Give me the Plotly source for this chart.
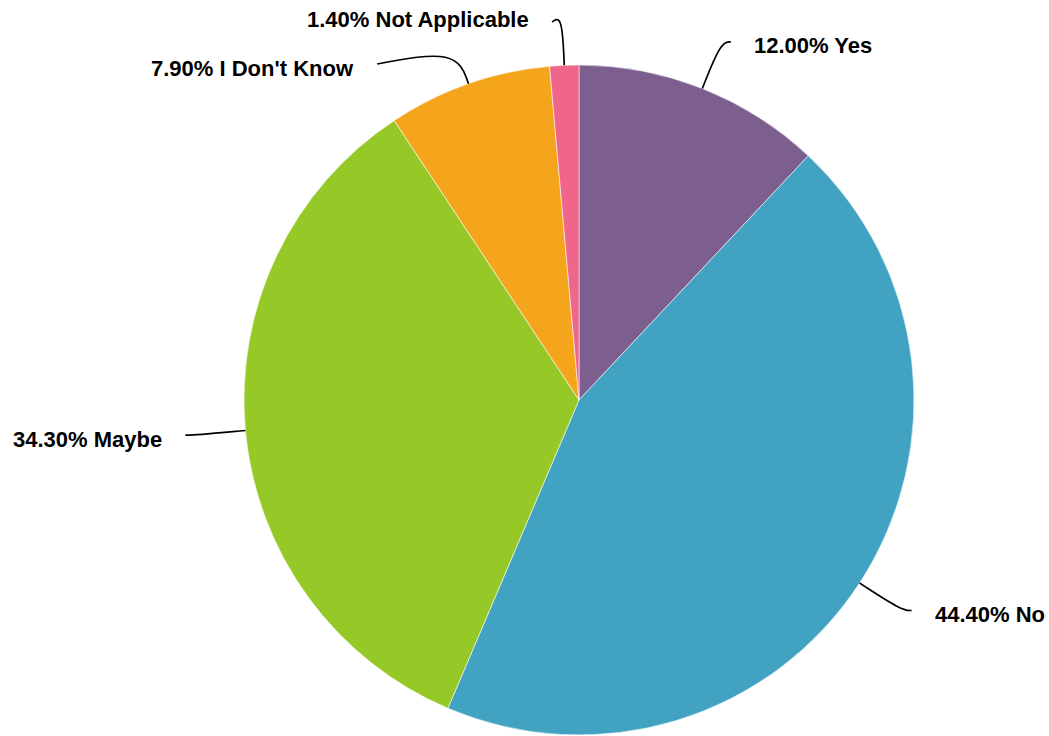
import math
import plotly.graph_objects as go

# ---- data ----
labels = ["Yes", "No", "Maybe", "I Don't Know", "Not Applicable"]
values = [12.0, 44.4, 34.3, 7.9, 1.4]
colors = ["#7D5F8F", "#41A2C2", "#96C828", "#F5A51B", "#F0668A"]

# ---- layout constants (pixels) ----
W, H = 1049, 736
CX, CY, R = 579, 400, 335
MID_F = 1.15        # radial factor of the leader-line elbow
MID_F_MOVED = 1.11  # elbow factor for labels pushed by collision
LABEL_R = 1.17 * R  # circle on which moved labels sit
MIN_GAP = 42        # min vertical gap between labels on one side
TOP_END = 22        # lowest y allowed for a line end
TEXT_DY = 4         # text centre offset below the line end
HOOK = 10           # horizontal hook length
TEXT_GAP = 21

total = sum(values)


def polar(angle_deg, r):
    a = math.radians(angle_deg)
    return CX + r * math.sin(a), CY - r * math.cos(a)


# compute label geometry from the data
items = []
cum = 0.0
for lab, v in zip(labels, values):
    mid = (cum + v / 2) / total * 360.0
    cum += v
    side = 1 if mid < 180 else -1
    p0 = polar(mid, R)
    p1 = polar(mid, MID_F * R)
    items.append(dict(label=lab, value=v, mid=mid, side=side, p0=p0, p1=p1,
                      raw_y=p1[1], end_y=max(p1[1], TOP_END), moved=False))

# collision avoidance per side (top to bottom)
for side in (1, -1):
    group = sorted([it for it in items if it["side"] == side], key=lambda d: d["end_y"])
    prev = None
    for it in group:
        if prev is not None and it["end_y"] < prev + MIN_GAP:
            it["end_y"] = prev + MIN_GAP
            it["moved"] = True
        prev = it["end_y"]

for it in items:
    if it["moved"]:
        it["p1"] = polar(it["mid"], MID_F_MOVED * R)
        dy = it["end_y"] - CY
        it["end_x"] = CX + it["side"] * math.sqrt(max(LABEL_R ** 2 - dy ** 2, 0))
        it["text_y"] = it["end_y"] + TEXT_DY
    else:
        it["end_x"] = it["p1"][0] + it["side"] * HOOK
        it["text_y"] = it["raw_y"] + TEXT_DY


def basis_path(p0, p1, p2):
    (x0, y0), (x1, y1), (x2, y2) = p0, p1, p2
    f = lambda v: f"{v:.2f}"
    pts = [
        ("M", [(x0, y0)]),
        ("L", [((5 * x0 + x1) / 6, (5 * y0 + y1) / 6)]),
        ("C", [((2 * x0 + x1) / 3, (2 * y0 + y1) / 3),
               ((x0 + 2 * x1) / 3, (y0 + 2 * y1) / 3),
               ((x0 + 4 * x1 + x2) / 6, (y0 + 4 * y1 + y2) / 6)]),
        ("C", [((2 * x1 + x2) / 3, (2 * y1 + y2) / 3),
               ((x1 + 2 * x2) / 3, (y1 + 2 * y2) / 3),
               ((x1 + 5 * x2) / 6, (y1 + 5 * y2) / 6)]),
        ("L", [(x2, y2)]),
    ]
    return " ".join(cmd + " " + " ".join(f"{f(a)},{f(b)}" for a, b in ps) for cmd, ps in pts)


fig = go.Figure()
fig.add_trace(go.Scatter(x=[None], y=[None], mode="markers", showlegend=False, hoverinfo="skip"))
fig.add_trace(go.Pie(
    labels=labels, values=values, sort=False, direction="clockwise", rotation=0,
    marker=dict(colors=colors, line=dict(color="rgba(255,255,255,0.8)", width=0.7)),
    textinfo="none", hoverinfo="label+percent", showlegend=False,
    domain=dict(x=[(CX - R) / W, (CX + R) / W], y=[(H - CY - R) / H, (H - CY + R) / H]),
))

shapes = []
annotations = []
for it in items:
    end = (it["end_x"], it["end_y"])
    shapes.append(dict(type="path", xref="x", yref="y", layer="above",
                       path=basis_path(it["p0"], it["p1"], end),
                       line=dict(color="#000000", width=1.7)))
    annotations.append(dict(
        xref="x", yref="y", x=it["end_x"] + it["side"] * TEXT_GAP, y=it["text_y"],
        text="<b>" + f"{it['value']:.2f}% {it['label']}" + "</b>", showarrow=False,
        xanchor="left" if it["side"] > 0 else "right", yanchor="middle",
        font=dict(family="Liberation Sans, Arial, sans-serif", size=22, color="#000000"),
    ))

fig.update_layout(
    width=W, height=H, margin=dict(l=0, r=0, t=0, b=0),
    paper_bgcolor="white", plot_bgcolor="white",
    xaxis=dict(range=[0, W], visible=False, fixedrange=True),
    yaxis=dict(range=[H, 0], visible=False, fixedrange=True),
    shapes=shapes, annotations=annotations,
)

fig.write_html("out.html", config={"displayModeBar": False},
               post_script="document.body.style.margin='0px';document.body.style.padding='0px';")
